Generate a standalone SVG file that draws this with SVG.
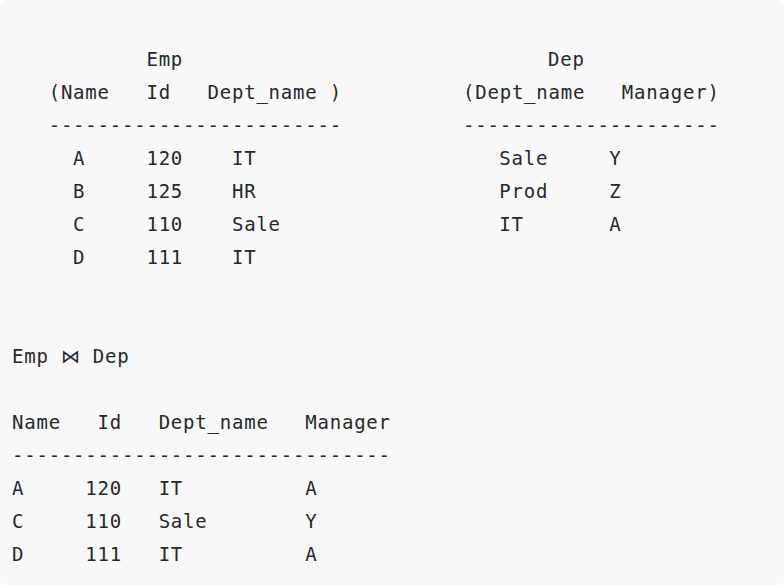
<svg xmlns="http://www.w3.org/2000/svg" width="784" height="585" viewBox="0 0 784 585">
<style>
text{font-family:"DejaVu Sans Mono","Liberation Mono",monospace;font-size:19px;letter-spacing:0.78px;fill:#24292e;white-space:pre}
</style>
<rect x="0" y="0" width="784" height="585" rx="6" fill="#f8f8f8"/>
<g id="emp">
<text x="12" y="66" xml:space="preserve">           Emp</text>
<text x="12" y="99" xml:space="preserve">   (Name   Id   Dept_name )</text>
<text x="12" y="132" xml:space="preserve">   ------------------------</text>
<text x="12" y="165" xml:space="preserve">     A     120    IT</text>
<text x="12" y="198" xml:space="preserve">     B     125    HR</text>
<text x="12" y="231" xml:space="preserve">     C     110    Sale</text>
<text x="12" y="264" xml:space="preserve">     D     111    IT</text>
</g>
<g id="dep">
<text x="548" y="66">Dep</text>
<text x="463" y="99" xml:space="preserve">(Dept_name   Manager)</text>
<text x="463" y="132">---------------------</text>
<text x="499.3" y="165" xml:space="preserve">Sale     Y</text>
<text x="499.3" y="198" xml:space="preserve">Prod     Z</text>
<text x="499.3" y="231" xml:space="preserve">IT       A</text>
</g>
<g id="join">
<text x="12" y="363" xml:space="preserve">Emp ⋈ Dep</text>
<text x="12" y="429" xml:space="preserve">Name   Id   Dept_name   Manager</text>
<text x="12" y="462">-------------------------------</text>
<text x="12" y="495" xml:space="preserve">A     120   IT          A</text>
<text x="12" y="528" xml:space="preserve">C     110   Sale        Y</text>
<text x="12" y="561" xml:space="preserve">D     111   IT          A</text>
</g>
</svg>
